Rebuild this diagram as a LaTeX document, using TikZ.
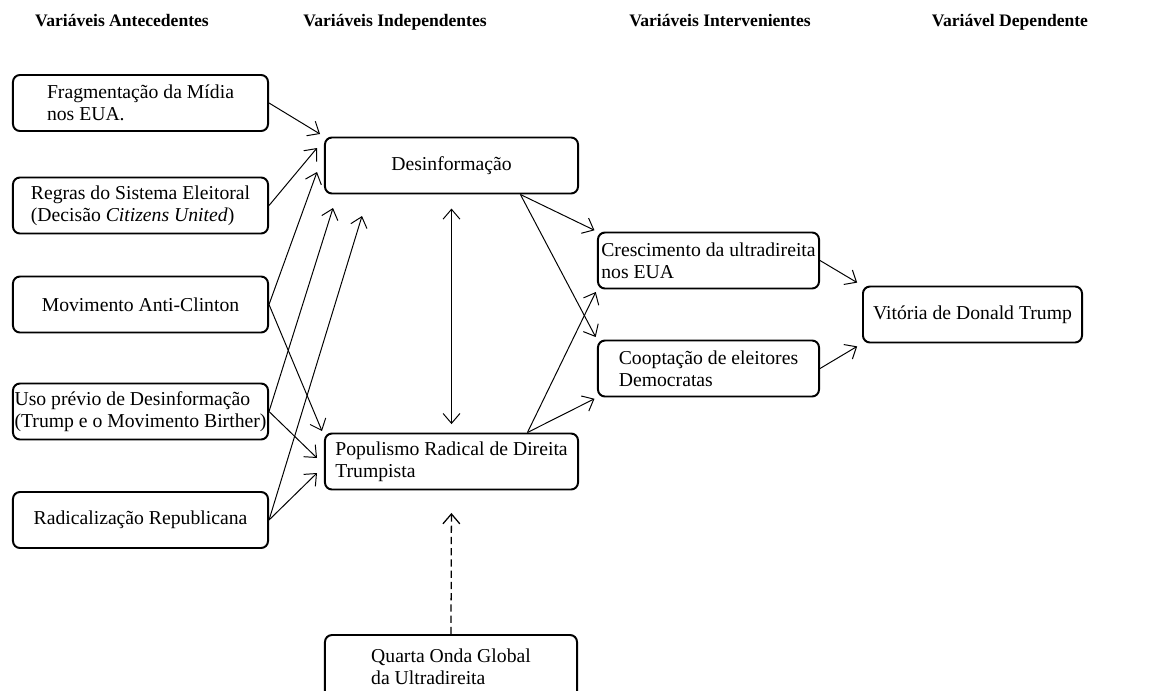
\documentclass[tikz,border=0pt]{standalone}
\usepackage{fontspec}
\setmainfont{Liberation Serif}
\usetikzlibrary{arrows.meta}

\begin{document}
\begin{tikzpicture}[x=0.025cm, y=-0.025cm,
    every node/.style={font=\fontsize{14}{15.6}\selectfont},
    titulo/.style={font=\fontsize{12.5}{14}\selectfont\bfseries, anchor=base},
    caixa/.style={draw, rounded corners=5pt, line width=1.4pt, align=left, inner sep=2pt, minimum height=1.4cm},
    seta/.style={-{Straight Barb[length=7pt,width=12pt]}, line width=0.7pt},
    seta dupla/.style={{Straight Barb[length=7pt,width=12pt]}-{Straight Barb[length=7pt,width=12pt]}, line width=0.7pt}]
    \useasboundingbox (0,0) rectangle (1161,690);

    \node[titulo] (t1) at (122,27) {Variáveis Antecedentes};
    \node[titulo] (t2) at (395,27) {Variáveis Independentes};
    \node[titulo] (t3) at (720,27) {Variáveis Intervenientes};
    \node[titulo] (t4) at (1010,27) {Variável Dependente};

    \node[caixa, minimum width=6.375cm] (a1) at (140.5,103) {Fragmentação da Mídia\\nos EUA.};
    \node[caixa, minimum width=6.375cm] (a2) at (140.5,205.5) {Regras do Sistema Eleitoral\\(Decisão \textit{Citizens United})};
    \node[caixa, minimum width=6.375cm] (a3) at (140.5,304.5) {Movimento Anti-Clinton};
    \node[caixa, minimum width=6.375cm, inner xsep=0pt] (a4) at (140.5,411.5) {Uso prévio de Desinformação\\(Trump e o Movimento Birther)};
    \node[caixa, minimum width=6.375cm] (a5) at (140.5,520) {Radicalização Republicana};

    \node[caixa, minimum width=6.325cm] (b1) at (451.5,165.5) {Desinformação};
    \node[caixa, minimum width=6.325cm] (b2) at (451.5,461.5) {Populismo Radical de Direita\\Trumpista};
    \node[caixa, minimum width=6.3cm, minimum height=1.6cm] (b3) at (451,667) {Quarta Onda Global\\ da Ultradireita};

    \node[caixa, minimum width=5.525cm] (c1) at (708.5,260.5) {Crescimento da ultradireita\\nos EUA};
    \node[caixa, minimum width=5.525cm] (c2) at (708.5,368.5) {Cooptação de eleitores\\Democratas};
    \node[caixa, minimum width=5.475cm] (d1) at (972.5,314.5) {Vitória de Donald Trump};

    \coordinate (e1) at (320,134);
    \coordinate (e2) at (317,148);
    \coordinate (e3) at (317,172);
    \coordinate (e4) at (333,208);
    \coordinate (e5) at (362,216);
    \coordinate (p1) at (322,431);
    \coordinate (p2) at (317,458);
    \coordinate (p3) at (317,473);

    \draw[seta] (a1.east) -- (e1);
    \draw[seta] (a2.east) -- (e2);
    \draw[seta] (a3.east) -- (e3);
    \draw[seta] (a4.east) -- (e4);
    \draw[seta] (a5.east) -- (e5);
    \draw[seta] (a3.east) -- (p1);
    \draw[seta] (a4.east) -- (p2);
    \draw[seta] (a5.east) -- (p3);

    \draw[seta dupla, shorten <=10pt, shorten >=6pt] (b1.south) -- (b2.north);
    \draw[seta, line width=0.9pt, dash pattern=on 5pt off 3pt, shorten >=16pt] (b3.north) -- (b2.south);

    \draw[seta, shorten >=2pt] ([xshift=49pt]b1.south) -- (c1.north west);
    \draw[seta, shorten >=2pt] ([xshift=49pt]b1.south) -- (c2.north west);
    \draw[seta, shorten >=2pt] ([xshift=54pt]b2.north) -- (c1.south west);
    \draw[seta, shorten >=2pt] ([xshift=54pt]b2.north) -- (c2.south west);

    \draw[seta, shorten >=4pt] (c1.east) -- (d1.north west);
    \draw[seta, shorten >=4pt] (c2.east) -- (d1.south west);
\end{tikzpicture}
\end{document}
